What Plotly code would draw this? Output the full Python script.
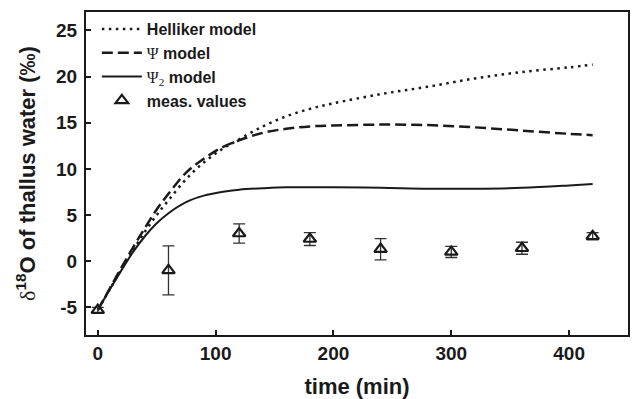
import plotly.graph_objects as go

# Model curves: time (min) and delta-18O of thallus water (permil)
t_model = [0, 10, 20, 30, 40, 50, 60, 75, 90, 105, 120, 140, 160, 180, 200,
           240, 280, 320, 360, 400, 420]
helliker = [-5.3, -3.1, -0.9, 1.2, 3.2, 5.0, 6.6, 8.9, 10.7, 12.1, 13.2, 14.6,
            15.7, 16.5, 17.1, 18.1, 18.9, 19.8, 20.5, 21.0, 21.3]
psi = [-5.3, -3.0, -0.7, 1.5, 3.6, 5.6, 7.3, 9.6, 11.1, 12.3, 13.1, 13.9,
       14.35, 14.6, 14.7, 14.8, 14.75, 14.5, 14.15, 13.8, 13.65]
psi2 = [-5.3, -3.1, -1.0, 1.0, 2.7, 4.1, 5.2, 6.4, 7.1, 7.5, 7.75, 7.9,
        8.0, 8.0, 8.0, 7.95, 7.85, 7.85, 7.95, 8.2, 8.35]

# Measured values with their error
t_meas = [0, 60, 120, 180, 240, 300, 360, 420]
d_meas = [-5.3, -1.0, 3.0, 2.4, 1.3, 1.0, 1.4, 2.7]
d_err = [0.3, 2.65, 1.05, 0.7, 1.15, 0.6, 0.65, 0.4]

x_ticks = [0, 100, 200, 300, 400]
y_ticks = [-5, 0, 5, 10, 15, 20, 25]
y_tick_labels = ["-5", "0", "5", "10", "15", "20", "25"]

SANS = "Liberation Sans, Arial, sans-serif"
SERIF = "Liberation Serif, Times New Roman, serif"
INK = "#1a1a1a"

psi_txt = f"<span style='font-family:{SERIF};font-weight:normal'>Ψ</span>"
psi2_txt = (f"<span style='font-family:{SERIF};font-weight:normal'>Ψ"
            f"<sub>2</sub></span>")

fig = go.Figure()
fig.add_trace(go.Scatter(
    x=t_model, y=helliker, mode="lines", name="Helliker model",
    line=dict(color=INK, width=2.5, dash="2.5px,4.5px", shape="spline"),
))
fig.add_trace(go.Scatter(
    x=t_model, y=psi, mode="lines", name=f"{psi_txt} model",
    line=dict(color=INK, width=2.5, dash="11px,5px", shape="spline"),
))
fig.add_trace(go.Scatter(
    x=t_model, y=psi2, mode="lines", name=f"{psi2_txt} model",
    line=dict(color=INK, width=2, shape="spline"),
))
fig.add_trace(go.Scatter(
    x=t_meas, y=d_meas, mode="markers", name="meas. values",
    marker=dict(symbol="triangle-up-open", size=11, color=INK,
                line=dict(width=2.2, color=INK)),
    error_y=dict(type="data", array=d_err, visible=True, color="#333",
                 thickness=1.3, width=6),
))

axis_common = dict(
    showline=True, linecolor=INK, linewidth=2, mirror=True,
    ticks="inside", ticklen=5, tickwidth=1.5, tickcolor=INK,
    showgrid=False, zeroline=False,
    tickfont=dict(family=SANS, size=19, color=INK, weight="bold"),
)

fig.update_layout(
    width=632, height=399,
    margin=dict(l=86, r=2, t=12, b=64),
    paper_bgcolor="white", plot_bgcolor="white",
    font=dict(family=SANS, color=INK),
    xaxis=dict(
        range=[-10, 450], tickvals=x_ticks,
        title=dict(text="time (min)", standoff=16,
                   font=dict(family=SANS, size=22, color=INK, weight="bold")),
        **axis_common,
    ),
    yaxis=dict(
        range=[-8, 27], tickvals=y_ticks, ticktext=y_tick_labels,
        ticklabelstandoff=3,
        title=dict(
            text=(f"<span style='font-family:{SERIF};font-weight:normal'>δ</span>"
                  "<sup>18</sup>O of thallus water (‰)"),
            standoff=14,
            font=dict(family=SANS, size=22, color=INK, weight="bold")),
        **axis_common,
    ),
    legend=dict(
        x=0.02, y=1.0, xanchor="left", yanchor="top",
        bgcolor="rgba(0,0,0,0)", borderwidth=0,
        itemwidth=40,
        font=dict(family=SANS, size=16, color=INK, weight="bold"),
        tracegroupgap=0,
    ),
    showlegend=True,
)

fig.write_html("out.html")
